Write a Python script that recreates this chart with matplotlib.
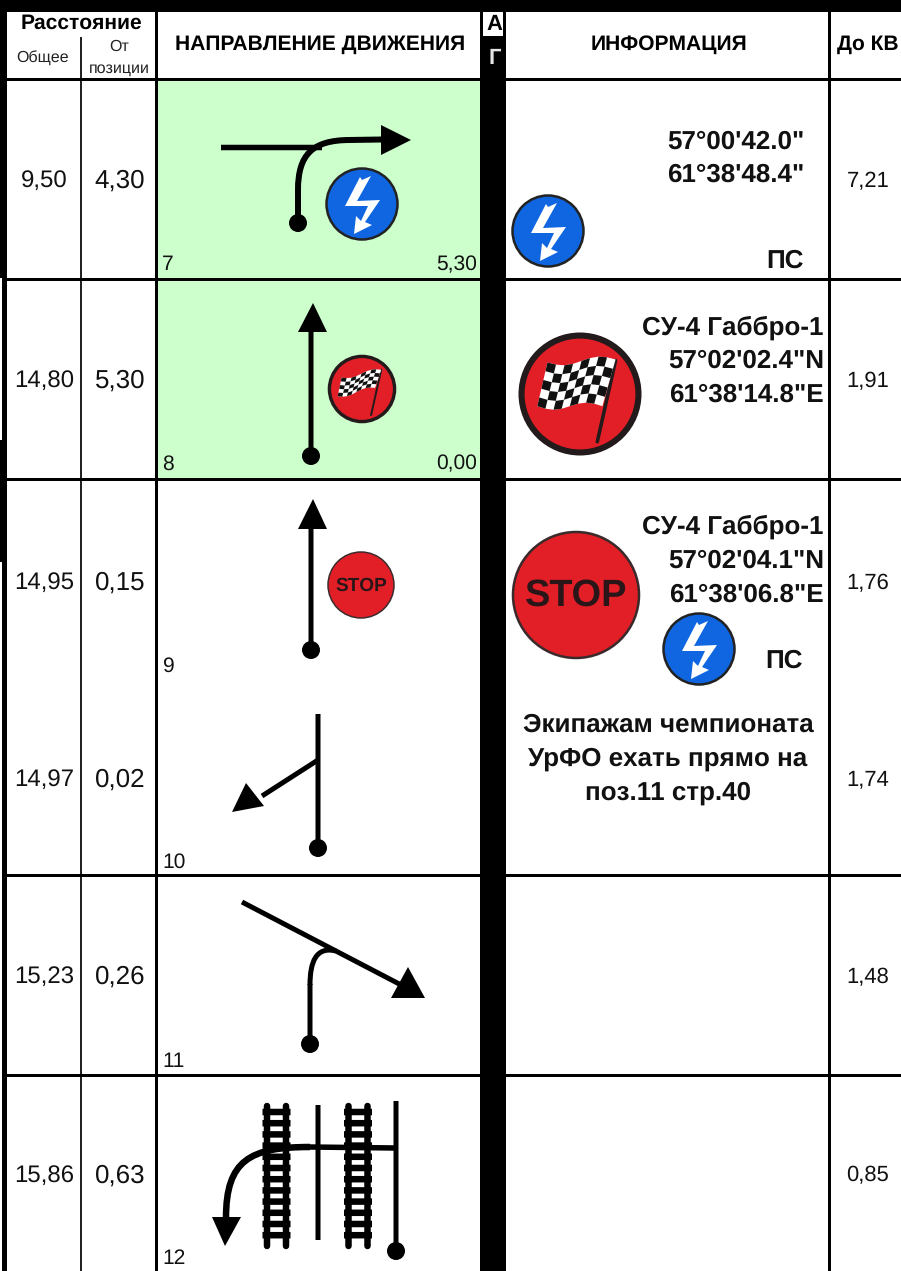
import numpy as np
import matplotlib
matplotlib.use('Agg')
import matplotlib.pyplot as plt
from matplotlib.patches import Circle, Rectangle, Polygon, PathPatch
from matplotlib.path import Path

total = ["9,50", "14,80", "14,95", "14,97", "15,23", "15,86"]
from_pos = ["4,30", "5,30", "0,15", "0,02", "0,26", "0,63"]
to_kv = ["7,21", "1,91", "1,76", "1,74", "1,48", "0,85"]
pos_num = ["7", "8", "9", "10", "11", "12"]
row_y = [181, 381, 583, 780, 977, 1176]
pos_y = [265, 464, 666, 862, 1062, 1259]
row_lines = [79, 279.5, 479.5, 875, 1075]

plt.rcParams['font.family'] = ['Liberation Sans', 'DejaVu Sans']
plt.rcParams['text.hinting'] = 'no_hinting'
plt.rcParams['text.hinting_factor'] = 1

W, H = 901, 1271
fig = plt.figure(figsize=(W / 100, H / 100), dpi=100)
ax = fig.add_axes([0, 0, 1, 1])
ax.set_xlim(0, W)
ax.set_ylim(H, 0)
ax.axis('off')

LW = 72 / 100  # one pixel in points
INK = '#111111'


def rect(x0, y0, x1, y1, color='k', z=2):
    ax.add_patch(Rectangle((x0, y0), x1 - x0, y1 - y0, fc=color, ec='none', zorder=z))


def line(xs, ys, w=5, z=4, cap='butt'):
    ax.plot(xs, ys, color='k', lw=w * LW, zorder=z, solid_capstyle=cap, solid_joinstyle='round', snap=False)


def curve(verts, w=5):
    codes = [Path.MOVETO] + [Path.CURVE4] * (len(verts) - 1)
    ax.add_patch(PathPatch(Path(verts, codes), fc='none', ec='k', lw=w * LW, zorder=4, capstyle='butt', snap=False))


def head(pts):
    ax.add_patch(Polygon(pts, fc='k', ec='none', zorder=5))


def dot(x, y, r=9):
    ax.add_patch(Circle((x, y), r, fc='k', ec='none', zorder=5))


def bolt_sign(cx, cy):
    ax.add_patch(Circle((cx, cy), 35.5, fc='#0f66e0', ec='#222222', lw=2.5 * LW, zorder=5))
    bolt = [(9, -28), (0, -24), (-2, -27), (-17, 2), (6, 2), (-1, 17), (-6, 12), (-8, 30),
            (10, 21), (3, 18), (18, -4), (-5, -3)]
    ax.add_patch(Polygon(np.array(bolt) + (cx, cy), fc='white', ec='none', zorder=6))


def flag_sign(cx, cy, r, corners, pole):
    s = r / 60
    ax.add_patch(Circle((cx, cy), r - 2.5 * s, fc='#e21f26', ec='#231a1c', lw=6 * s * LW, zorder=5))
    ax.plot([cx + pole[0][0] * s, cx + pole[1][0] * s], [cy + pole[0][1] * s, cy + pole[1][1] * s],
            color='#231a1c', lw=3.5 * s * LW, zorder=6, solid_capstyle='round')
    tl, tr, br, bl = [np.array(c, dtype=float) * s + (cx, cy) for c in corners]
    nx, ny = 8, 5

    def grid(i, j):
        u, v = i / nx, j / ny
        p = (1 - v) * ((1 - u) * tl + u * tr) + v * ((1 - u) * bl + u * br)
        p[1] += 3.5 * s * np.sin(u * 2 * np.pi)
        return p

    ax.add_patch(Polygon([grid(i, 0) for i in range(nx + 1)] + [grid(i, ny) for i in range(nx, -1, -1)],
                         fc='white', ec='none', zorder=7))
    for i in range(nx):
        for j in range(ny):
            if (i + j) % 2 == 0:
                q = [grid(i, j), grid(i + 1, j), grid(i + 1, j + 1), grid(i, j + 1)]
                ax.add_patch(Polygon(q, fc='#111111', ec='none', zorder=8))


def stop_sign(cx, cy, r, fs):
    ax.add_patch(Circle((cx, cy), r, fc='#e21f26', ec='#3a2a2c', lw=max(1.5, r / 25) * LW, zorder=5))
    ax.text(cx, cy + 1, "STOP", ha='center', va='center', fontsize=fs, fontweight='bold',
            color='#2a1518', zorder=6)


def rail(x):
    line([x - 9.5, x - 9.5], [1106, 1246], 6.5, cap='round')
    line([x + 9.5, x + 9.5], [1106, 1246], 6.5, cap='round')
    for y in np.arange(1112, 1245, 11.2):
        line([x - 14, x + 14], [y, y], 6.5)


# green cells
rect(158, 81, 480, 478, '#ccffcc', 1)

# frame
rect(0, 0, W, 12)
rect(0, 12, 7, 278)
rect(2, 278, 7, H)
rect(0, 440, 7, 562)
rect(155, 12, 158, H)
rect(80, 37, 82, H, '#222222')
rect(480, 12, 506, H)
rect(483, 12, 503, 36, 'white', 3)
rect(828, 12, 831, H)
for y in row_lines:
    rect(7, y - 1.5, 480, y + 1.5)
    rect(506, y - 1.5, W, y + 1.5)

# header
ax.text(81, 23, "Расстояние", ha='center', va='center', fontsize=15, fontweight='bold', zorder=6)
ax.text(43, 58, "Общее", ha='center', va='center', fontsize=11.5, color='#222222', zorder=6)
ax.text(119, 47, "От", ha='center', va='center', fontsize=11.5, color='#222222', zorder=6)
ax.text(119, 69, "позиции", ha='center', va='center', fontsize=11.5, color='#222222', zorder=6)
ax.text(320.5, 44, "НАПРАВЛЕНИЕ ДВИЖЕНИЯ", ha='center', va='center', fontsize=15.3, fontweight='bold', zorder=6)
ax.text(494.5, 24.5, "А", ha='center', va='center', fontsize=15.5, fontweight='bold', zorder=6)
ax.text(495, 58, "Г", ha='center', va='center', fontsize=16, fontweight='bold', color='#e6e6e6', zorder=6)
ax.text(669, 44, "ИНФОРМАЦИЯ", ha='center', va='center', fontsize=15.3, fontweight='bold', zorder=6)
ax.text(867.5, 44, "До КВ", ha='center', va='center', fontsize=15.3, fontweight='bold', zorder=6)

# rows
for i in range(len(total)):
    ax.text(44, row_y[i], total[i], ha='center', va='center', fontsize=17, color=INK, zorder=6)
    ax.text(120, row_y[i], from_pos[i], ha='center', va='center', fontsize=19, color=INK, zorder=6)
    ax.text(868, row_y[i], to_kv[i], ha='center', va='center', fontsize=15.5, color=INK, zorder=6)
    ax.text(162, pos_y[i], pos_num[i], ha='left', va='center', fontsize=15, color=INK, zorder=6)
ax.text(477, 265, "5,30", ha='right', va='center', fontsize=15, color=INK, zorder=6)
ax.text(477, 464, "0,00", ha='right', va='center', fontsize=15, color=INK, zorder=6)

# position 7
line([221, 322], [147.5, 147.5], 5.5)
line([298, 298], [222, 189], 6)
curve([(298, 190), (298, 155), (312, 140), (350, 140)], 6)
line([349, 382], [140, 139.5], 6)
head([(381, 125), (381, 155), (411, 140)])
dot(298, 223)
bolt_sign(362, 204)

# position 8
line([311, 311], [330, 455])
head([(298, 332), (327, 332), (313, 303)])
dot(311, 456)
flag_sign(362, 389, 34, [(-36, -20), (34, -34), (23, -2), (-43, 13)], [(34, -34), (16, 46)])

# position 9
line([311, 311], [527, 650])
head([(298, 529), (327, 529), (313, 499)])
dot(311, 650)
stop_sign(361, 585, 33, 14)

# position 10
line([318, 318], [714, 848])
line([318, 262], [760, 796])
head([(232, 812), (246, 783), (264, 806)])
dot(318, 848)

# position 11
line([242, 405], [902, 987])
line([310, 310], [1044, 984], 5)
curve([(310, 985), (310, 962), (316, 946), (336, 951)], 5)
head([(425, 998), (391, 998), (408, 967)])
dot(310, 1044)

# position 12
rail(276.5)
rail(358)
line([318, 318], [1105, 1240])
line([396, 396], [1101, 1250])
line([396, 309], [1148, 1147], 5.5)
curve([(310, 1147), (250, 1147), (226, 1160), (226, 1218)], 6.5)
head([(212, 1217), (241, 1217), (225, 1246)])
dot(396, 1251)

# information column
info_kw = dict(ha='right', va='center', fontsize=19, fontweight='bold', color=INK, zorder=6)
ax.text(804, 142, "57°00'42.0\"", **info_kw)
ax.text(804, 175, "61°38'48.4\"", **info_kw)
ax.text(804, 261, "ПС", **info_kw)
bolt_sign(548, 231)

ax.text(823, 328, "СУ-4 Габбро-1", **info_kw)
ax.text(824, 361, "57°02'02.4\"N", **info_kw)
ax.text(824, 395, "61°38'14.8\"E", **info_kw)
flag_sign(580, 394, 61, [(-32, -31), (35, -34), (22, 12), (-42, 12)], [(35, -33), (17, 47)])

ax.text(823, 527, "СУ-4 Габбро-1", **info_kw)
ax.text(824, 561, "57°02'04.1\"N", **info_kw)
ax.text(824, 595, "61°38'06.8\"E", **info_kw)
stop_sign(576, 595, 63, 27)
bolt_sign(699, 649)
ax.text(803, 661, "ПС", **info_kw)

centre_kw = dict(ha='center', va='center', fontsize=19, fontweight='bold', color=INK, zorder=6)
ax.text(668, 725, "Экипажам чемпионата", **centre_kw)
ax.text(668, 759, "УрФО ехать прямо на", **centre_kw)
ax.text(668, 793, "поз.11 стр.40", **centre_kw)

fig.savefig("out.png", dpi=100)
